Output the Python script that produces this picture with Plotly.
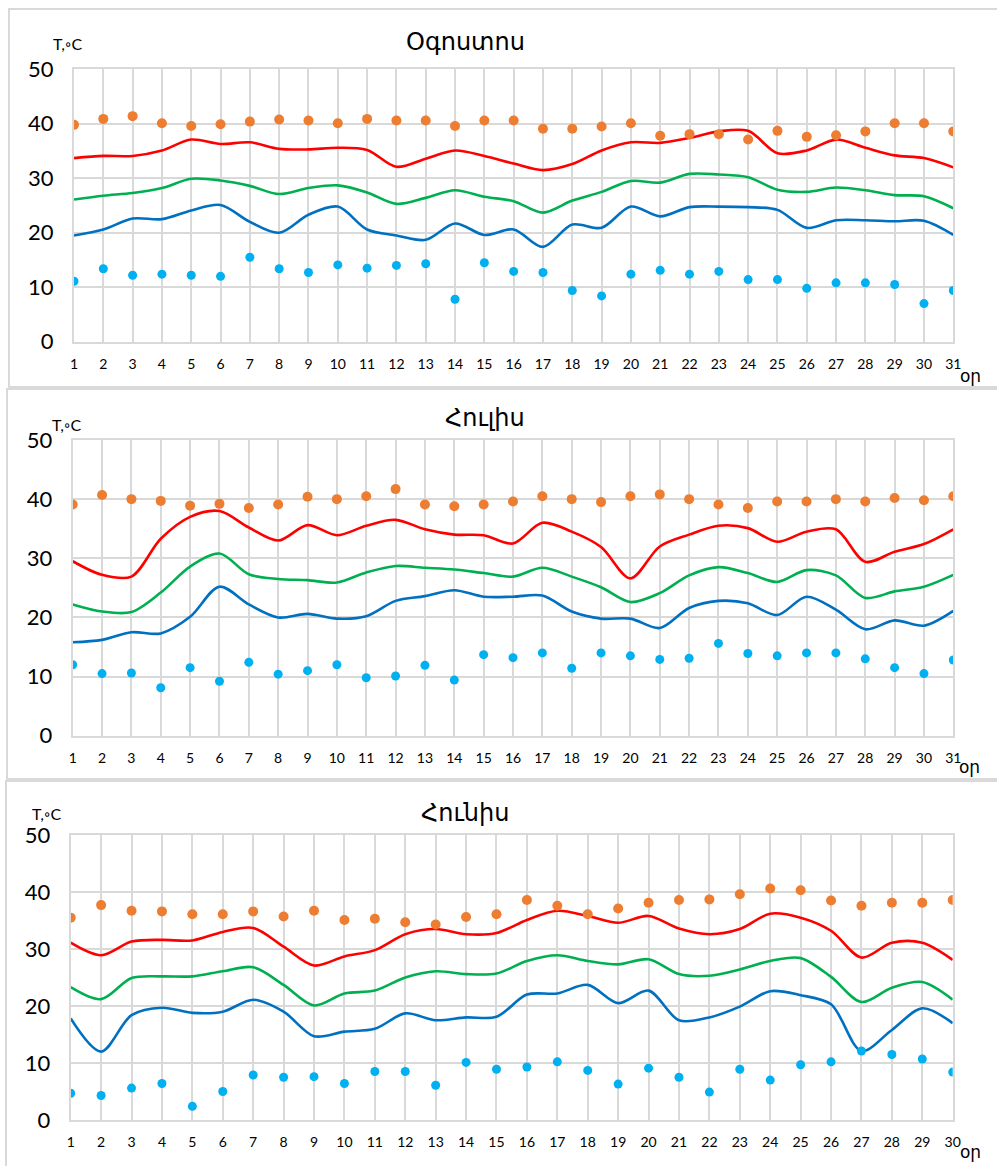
import plotly.graph_objects as go

# Daily temperatures, °C
days_aug = list(range(1, 32))
aug_abs_max = [39.8, 40.9, 41.4, 40.1, 39.6, 39.9, 40.4, 40.8, 40.6, 40.1, 40.9, 40.6, 40.6, 39.6, 40.6,
               40.6, 39.1, 39.1, 39.5, 40.1, 37.8, 38.1, 38.1, 37.1, 38.7, 37.6, 37.9, 38.6, 40.1, 40.1, 38.6]
aug_max = [33.7, 34.1, 34.1, 35.1, 37.1, 36.3, 36.6, 35.4, 35.3, 35.6, 35.2, 32.1, 33.6, 35.1, 34.1,
           32.7, 31.5, 32.6, 35.1, 36.6, 36.5, 37.4, 38.6, 38.7, 34.6, 35.1, 37.1, 35.6, 34.2, 33.7, 32.0]
aug_mean = [26.1, 26.8, 27.3, 28.2, 29.9, 29.6, 28.6, 27.1, 28.2, 28.7, 27.4, 25.3, 26.4, 27.8, 26.6,
            25.8, 23.7, 25.9, 27.5, 29.5, 29.2, 30.8, 30.7, 30.2, 27.9, 27.5, 28.3, 27.8, 26.9, 26.7, 24.5]
aug_min = [19.5, 20.6, 22.6, 22.5, 24.1, 25.1, 22.0, 20.0, 23.3, 24.8, 20.6, 19.5, 18.7, 21.7, 19.6,
           20.6, 17.4, 21.5, 20.9, 24.8, 23.0, 24.7, 24.8, 24.7, 24.2, 20.9, 22.3, 22.3, 22.1, 22.2, 19.6]
aug_abs_min = [11.1, 13.4, 12.2, 12.4, 12.2, 12.0, 15.5, 13.4, 12.7, 14.1, 13.5, 14.0, 14.3, 7.8, 14.5,
               12.9, 12.7, 9.4, 8.4, 12.4, 13.1, 12.4, 12.9, 11.4, 11.4, 9.8, 10.8, 10.8, 10.5, 7.0, 9.4]

days_jul = list(range(1, 32))
jul_abs_max = [39.1, 40.7, 40.0, 39.7, 38.9, 39.2, 38.5, 39.1, 40.4, 40.0, 40.5, 41.7, 39.1, 38.8, 39.1,
               39.6, 40.5, 40.0, 39.5, 40.5, 40.8, 40.0, 39.1, 38.5, 39.6, 39.6, 40.0, 39.6, 40.2, 39.8, 40.5]
jul_max = [29.5, 27.2, 26.9, 33.3, 37.0, 38.0, 35.2, 33.0, 35.6, 33.9, 35.5, 36.5, 34.9, 34.0, 33.9,
           32.5, 36.0, 34.5, 31.9, 26.6, 32.0, 34.0, 35.5, 35.1, 32.8, 34.5, 34.9, 29.4, 31.1, 32.4, 34.9]
jul_mean = [22.2, 21.0, 20.9, 24.2, 28.6, 30.8, 27.3, 26.5, 26.3, 25.9, 27.6, 28.7, 28.4, 28.1, 27.5,
            26.9, 28.4, 26.9, 25.1, 22.6, 24.1, 27.1, 28.5, 27.5, 26.0, 28.0, 27.1, 23.3, 24.4, 25.2, 27.2]
jul_min = [15.8, 16.2, 17.5, 17.3, 20.1, 25.2, 22.2, 20.0, 20.6, 19.8, 20.2, 22.8, 23.6, 24.6, 23.5,
           23.5, 23.7, 21.0, 19.8, 19.8, 18.2, 21.6, 22.8, 22.4, 20.4, 23.5, 21.3, 18.0, 19.5, 18.6, 21.1]
jul_abs_min = [12.0, 10.5, 10.6, 8.1, 11.5, 9.2, 12.4, 10.4, 11.0, 12.0, 9.8, 10.1, 11.9, 9.4, 13.7,
               13.2, 14.0, 11.4, 14.0, 13.5, 12.9, 13.1, 15.6, 13.9, 13.5, 14.0, 14.0, 13.0, 11.5, 10.5, 12.8]

days_jun = list(range(1, 31))
jun_abs_max = [35.5, 37.7, 36.7, 36.6, 36.1, 36.1, 36.6, 35.7, 36.7, 35.1, 35.3, 34.7, 34.3, 35.6, 36.1,
               38.6, 37.6, 36.1, 37.1, 38.1, 38.6, 38.7, 39.6, 40.6, 40.3, 38.5, 37.6, 38.1, 38.1, 38.6]
jun_max = [31.1, 28.9, 31.3, 31.6, 31.5, 33.0, 33.7, 30.4, 27.1, 28.7, 29.8, 32.6, 33.5, 32.6, 32.8,
           35.1, 36.7, 35.8, 34.6, 35.8, 33.6, 32.6, 33.5, 36.2, 35.5, 33.2, 28.5, 31.1, 31.1, 28.1]
jun_mean = [23.3, 21.2, 24.9, 25.2, 25.2, 26.1, 26.8, 23.7, 20.1, 22.2, 22.7, 25.0, 26.1, 25.6, 25.7,
            27.9, 28.9, 27.9, 27.3, 28.2, 25.6, 25.3, 26.4, 27.9, 28.4, 25.1, 20.7, 23.2, 24.2, 21.1]
jun_min = [17.8, 12.0, 18.4, 19.7, 18.8, 19.0, 21.1, 19.0, 14.7, 15.5, 16.0, 18.7, 17.5, 18.0, 18.1,
           22.0, 22.2, 23.7, 20.5, 22.7, 17.5, 18.0, 19.9, 22.6, 21.9, 20.3, 12.1, 15.8, 19.6, 17.0]
jun_abs_min = [4.7, 4.3, 5.6, 6.4, 2.4, 5.0, 7.9, 7.5, 7.6, 6.4, 8.5, 8.5, 6.1, 10.1, 8.9,
               9.3, 10.2, 8.7, 6.3, 9.1, 7.5, 4.9, 8.9, 7.0, 9.7, 10.2, 12.1, 11.5, 10.7, 8.4]

titles = ["Օգոստոս", "Հուլիս", "Հունիս"]

W, H = 997, 1166
GRID = "#d9d9d9"
C_ABS_MAX = "#ED7D31"
C_MAX = "#FF0000"
C_MEAN = "#00B050"
C_MIN = "#0070C0"
C_ABS_MIN = "#00B0F0"
NUM_FONT = "Lato, Liberation Sans, sans-serif"
ARM_FONT = "DejaVu Sans, sans-serif"


def fx(px):
    return px / W


def fy(py):
    return 1 - py / H


panels = [
    dict(days=days_aug, series=(aug_abs_max, aug_max, aug_mean, aug_min, aug_abs_min),
         plot=(74, 953.3, 69.3, 341.7), box=(9, 1000, 9, 387),
         title=(465, 42), unit=(67, 44), day_lbl=(970, 376)),
    dict(days=days_jul, series=(jul_abs_max, jul_max, jul_mean, jul_min, jul_abs_min),
         plot=(72.7, 953.3, 440, 735.7), box=(7, 1000, 389, 779),
         title=(485, 418), unit=(66, 425), day_lbl=(969, 767)),
    dict(days=days_jun, series=(jun_abs_max, jun_max, jun_mean, jun_min, jun_abs_min),
         plot=(70.7, 952.7, 835, 1120), box=(6, 1000, 781, 1170),
         title=(465, 813), unit=(46, 813), day_lbl=(970, 1152)),
]

fig = go.Figure()
shapes = []
annotations = []

for i, p in enumerate(panels):
    n = "" if i == 0 else str(i + 1)
    xa, ya = "x" + n, "y" + n
    days = p["days"]
    abs_max, tmax, tmean, tmin, abs_min = p["series"]

    for vals, col in ((tmax, C_MAX), (tmean, C_MEAN), (tmin, C_MIN)):
        fig.add_trace(go.Scatter(x=days, y=vals, mode="lines", xaxis=xa, yaxis=ya,
                                 line=dict(color=col, width=2.6, shape="spline", smoothing=0.9),
                                 showlegend=False, hoverinfo="x+y"))
    fig.add_trace(go.Scatter(x=days, y=abs_max, mode="markers", xaxis=xa, yaxis=ya,
                             marker=dict(color=C_ABS_MAX, size=10, line=dict(width=0)),
                             showlegend=False))
    fig.add_trace(go.Scatter(x=days, y=abs_min, mode="markers", xaxis=xa, yaxis=ya,
                             marker=dict(color=C_ABS_MIN, size=9, line=dict(width=0)),
                             showlegend=False))

    x0, x1, y0, y1 = p["plot"]
    fig.layout["xaxis" + n] = dict(
        domain=[fx(x0), fx(x1)], anchor=ya, range=[1, days[-1]], automargin=False,
        tickmode="array", tickvals=days, ticktext=[str(d) for d in days],
        showgrid=True, gridcolor=GRID, gridwidth=1.6,
        showline=True, linecolor=GRID, linewidth=2, mirror=True,
        zeroline=False, ticks="", ticklabelstandoff=8,
        tickfont=dict(family=NUM_FONT, size=14, color="#000000"),
    )
    fig.layout["yaxis" + n] = dict(
        domain=[fy(y1), fy(y0)], anchor=xa, range=[0, 50], automargin=False,
        tickmode="array", tickvals=[0, 10, 20, 30, 40, 50],
        showgrid=True, gridcolor=GRID, gridwidth=1.6,
        showline=True, linecolor=GRID, linewidth=2, mirror=True,
        zeroline=False, ticks="", ticklabelstandoff=14,
        tickfont=dict(family=NUM_FONT, size=22, color="#000000"),
    )

    bx0, bx1, by0, by1 = p["box"]
    shapes.append(dict(type="rect", xref="paper", yref="paper",
                       x0=fx(bx0), x1=fx(bx1), y0=fy(by1), y1=fy(by0),
                       line=dict(color=GRID, width=2), fillcolor="rgba(0,0,0,0)", layer="below"))

    tx, ty = p["title"]
    annotations.append(dict(text=titles[i], xref="paper", yref="paper", x=fx(tx), y=fy(ty),
                            xanchor="center", yanchor="middle", showarrow=False,
                            font=dict(family=ARM_FONT, size=24, color="#000000")))
    ux, uy = p["unit"]
    annotations.append(dict(text="T,◦C", xref="paper", yref="paper", x=fx(ux), y=fy(uy),
                            xanchor="center", yanchor="middle", showarrow=False,
                            font=dict(family=NUM_FONT, size=16, color="#000000")))
    dx, dy = p["day_lbl"]
    annotations.append(dict(text="օր", xref="paper", yref="paper", x=fx(dx), y=fy(dy),
                            xanchor="center", yanchor="middle", showarrow=False,
                            font=dict(family=ARM_FONT, size=17, color="#000000")))

fig.update_layout(
    width=W, height=H, autosize=False,
    margin=dict(l=0, r=0, t=0, b=0, pad=0),
    paper_bgcolor="white", plot_bgcolor="white",
    shapes=shapes, annotations=annotations,
)

fig.write_html("out.html")
